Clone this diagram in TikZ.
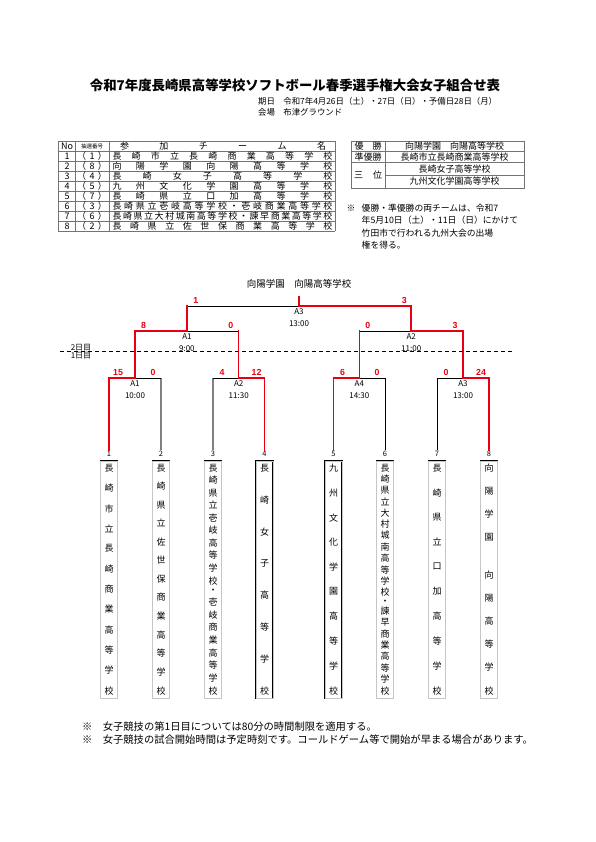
\documentclass[tikz,border=0pt]{standalone}
\usepackage{fontspec}
\setmainfont{Noto Sans CJK JP}
\newfontfamily\scorefont{Liberation Sans}
\definecolor{winred}{RGB}{232,0,16}

% spread characters over a fixed width / height
\newcommand\spreadtext[2]{\makebox[#1]{\foreach \tchar [count=\idx] in {#2}{\ifnum\idx>1 \hfill\fi\tchar}}}
\newcommand\tatetext[2]{\vbox to #1{\offinterlineskip\foreach \tchar [count=\idx] in {#2}{\ifnum\idx>1 \vfill\fi\hbox to 10pt{\hss\tchar\hss}}}}

\begin{document}
\begin{tikzpicture}[x=1pt,y=-1pt,
  win/.style={draw=winred,line width=1.5pt,line cap=rect},
  lose/.style={draw=black,line width=0.8pt},
  grey/.style={draw=gray,line width=1.3pt},
  tbl/.style={draw=black!55,line width=0.6pt},
  tblfont/.style={font=\fontsize{9}{9}\selectfont,inner sep=0pt},
  notefont/.style={font=\fontsize{8.8}{12.5}\selectfont,inner sep=0pt},
  score/.style={text=winred,font=\scorefont\bfseries\fontsize{8.8}{9}\selectfont,inner sep=0pt,anchor=south,yshift=2.5pt},
  matchlbl/.style={font=\fontsize{8}{11.5}\selectfont,align=center,inner sep=0pt,anchor=north,yshift=-2.5pt},
  teambox/.style={draw,double=gray!45,double distance=0.5pt,line width=0.5pt,minimum width=17pt,minimum height=237.5pt,inner sep=0pt,anchor=north,font=\fontsize{9}{9}\selectfont},
  numlbl/.style={font=\fontsize{7.5}{7.5}\selectfont,inner sep=0.5pt}]

  \fill[white] (0,0) rectangle (595,842);
  \useasboundingbox (0,0) rectangle (595,842);

  % heading
  \node[font=\bfseries\fontsize{13.4}{16}\selectfont] (title) at (295,85) {令和7年度長崎県高等学校ソフトボール春季選手権大会女子組合せ表};
  \node[anchor=west,font=\fontsize{8.4}{10}\selectfont,inner sep=0pt] (date) at (258,101.5) {期日　令和7年4月26日（土）・27日（日）・予備日28日（月）};
  \node[anchor=west,font=\fontsize{8.4}{10}\selectfont,inner sep=0pt] (place) at (258,112) {会場　布津グラウンド};

  % team list
  \foreach \r in {0,...,9} \draw[tbl] (58,141+10*\r) -- (335,141+10*\r);
  \foreach \c in {58,75.5,109,335} \draw[tbl] (\c,141) -- (\c,231);
  \node[tblfont] (hno) at (67,146) {No};
  \node[font=\fontsize{5.5}{6}\selectfont,inner sep=0pt] (hlot) at (92,146) {抽選番号};
  \node[tblfont] (hteam) at (223,146) {\spreadtext{206pt}{参,加,チ,ー,ム,名}};
  \foreach \no/\lot [count=\r] in {1/1,2/8,3/4,4/5,5/7,6/3,7/6,8/2}{
    \node[tblfont] (no\r) at (67,146+10*\r) {\no};
    \node[tblfont] (lot\r) at (92,146+10*\r) {\spreadtext{30pt}{（,\lot,）}};
  }
  \node[tblfont] (name1) at (222.5,156) {\spreadtext{220pt}{長,崎,市,立,長,崎,商,業,高,等,学,校}};
  \node[tblfont] (name2) at (222.5,166) {\spreadtext{220pt}{向,陽,学,園,向,陽,高,等,学,校}};
  \node[tblfont] (name3) at (222.5,176) {\spreadtext{220pt}{長,崎,女,子,高,等,学,校}};
  \node[tblfont] (name4) at (222.5,186) {\spreadtext{220pt}{九,州,文,化,学,園,高,等,学,校}};
  \node[tblfont] (name5) at (222.5,196) {\spreadtext{220pt}{長,崎,県,立,口,加,高,等,学,校}};
  \node[tblfont] (name6) at (222.5,206) {\spreadtext{220pt}{長,崎,県,立,壱,岐,高,等,学,校,・,壱,岐,商,業,高,等,学,校}};
  \node[tblfont] (name7) at (222.5,216) {\spreadtext{220pt}{長,崎,県,立,大,村,城,南,高,等,学,校,・,諫,早,商,業,高,等,学,校}};
  \node[tblfont] (name8) at (222.5,226) {\spreadtext{220pt}{長,崎,県,立,佐,世,保,商,業,高,等,学,校}};

  % results
  \draw[tbl] (351,141) rectangle (524,188);
  \draw[tbl] (351,151.5) -- (524,151.5);
  \draw[tbl] (351,162.5) -- (524,162.5);
  \draw[tbl] (385,175) -- (524,175);
  \draw[tbl] (385,141) -- (385,188);
  \node[tblfont] (rank1) at (368,146.25) {\spreadtext{27pt}{優,勝}};
  \node[tblfont] (rank2) at (368,157) {準優勝};
  \node[tblfont] (rank3) at (368,175.25) {\spreadtext{28pt}{三,位}};
  \node[tblfont] (res1) at (454.5,146.25) {向陽学園　向陽高等学校};
  \node[tblfont] (res2) at (454.5,157) {長崎市立長崎商業高等学校};
  \node[tblfont] (res3) at (454.5,168.75) {長崎女子高等学校};
  \node[tblfont] (res4) at (454.5,181.5) {九州文化学園高等学校};
  \node[notefont] (mark) at (351,208) {※};
  \node[notefont,anchor=north west,align=left] (note) at (361.5,203.5) {優勝・準優勝の両チームは、令和7\\年5月10日（土）・11日（日）にかけて\\竹田市で行われる九州大会の出場\\権を得る。};

  % bracket
  \coordinate (m1) at (135,378);
  \coordinate (m2) at (238.7,378);
  \coordinate (m3) at (359.3,378);
  \coordinate (m4) at (463,378);
  \coordinate (s1) at (186.9,331);
  \coordinate (s2) at (411.2,331);
  \coordinate (fin) at (299,306);
  \coordinate (ftop) at (299,297);
  \node[font=\fontsize{9.5}{10}\selectfont] (champ) at (299,283.5) {向陽学園　向陽高等学校};

  \draw[dashed,dash pattern=on 4pt off 3pt,line width=0.8pt] (60,351.5) -- (513,351.5);
  \node[anchor=south,font=\fontsize{8}{8}\selectfont,inner sep=0.3pt] (day2) at (81,351.5) {2日目};
  \node[anchor=north,font=\fontsize{8}{8}\selectfont,inner sep=0.3pt] (day1) at (81,352) {1日目};

  \foreach \x [count=\i] in {109,161,213,264.5,333.5,385,437,489}
    \node[numlbl] (n\i) at (\x,453.5) {\i};

  \node[teambox] (t1) at (109,460.5) {\tatetext{230pt}{長,崎,市,立,長,崎,商,業,高,等,学,校}};
  \node[teambox] (t2) at (161,460.5) {\tatetext{230pt}{長,崎,県,立,佐,世,保,商,業,高,等,学,校}};
  \node[teambox] (t3) at (213,460.5) {\tatetext{230pt}{長,崎,県,立,壱,岐,高,等,学,校,・,壱,岐,商,業,高,等,学,校}};
  \node[teambox] (t4) at (264.5,460.5) {\tatetext{230pt}{長,崎,女,子,高,等,学,校}};
  \node[teambox] (t5) at (333.5,460.5) {\tatetext{230pt}{九,州,文,化,学,園,高,等,学,校}};
  \node[teambox] (t6) at (385,460.5) {\tatetext{230pt}{長,崎,県,立,大,村,城,南,高,等,学,校,・,諫,早,商,業,高,等,学,校}};
  \node[teambox] (t7) at (437,460.5) {\tatetext{230pt}{長,崎,県,立,口,加,高,等,学,校}};
  \node[teambox] (t8) at (489,460.5) {\tatetext{230pt}{向,陽,学,園,　,向,陽,高,等,学,校}};

  \draw[grey] (n2.north) -- (n2.north |- m1);
  \draw[lose] (n2.north |- m1) -- (m1);
  \draw[grey] (n3.north) -- (n3.north |- m2);
  \draw[lose] (n3.north |- m2) -- (m2);
  \draw[lose] (n6.north) |- (m3);
  \draw[lose] (n7.north) |- (m4);
  \draw[lose] (m2 |- s1) -- (s1);
  \draw[lose] (m3 |- s2) -- (s2);
  \draw[lose] (s1 |- fin) -- (fin);

  \draw[win] (n1.north) |- (m1);
  \draw[win] (n4.north) |- (m2);
  \draw[win] (n5.north) |- (m3);
  \draw[win] (n8.north) |- (m4);
  \draw[win] (m1) |- (s1);
  \draw[win] (m2) -- (m2 |- s1);
  \draw[win] (m3) -- (m3 |- s2);
  \draw[win] (m4) |- (s2);
  \draw[win] (s1) -- (s1 |- fin);
  \draw[win] (s2) |- (fin) -- (ftop);

  \node[score,xshift=9pt] (sc1) at (n1.north |- m1) {15};
  \node[score,xshift=-8pt] (sc2) at (n2.north |- m1) {0};
  \node[score,xshift=9pt] (sc3) at (n3.north |- m2) {4};
  \node[score,xshift=-8pt] (sc4) at (n4.north |- m2) {12};
  \node[score,xshift=9pt] (sc5) at (n5.north |- m3) {6};
  \node[score,xshift=-8pt] (sc6) at (n6.north |- m3) {0};
  \node[score,xshift=9pt] (sc7) at (n7.north |- m4) {0};
  \node[score,xshift=-8pt] (sc8) at (n8.north |- m4) {24};
  \node[score,xshift=8.5pt] (ss1) at (m1 |- s1) {8};
  \node[score,xshift=-8pt] (ss2) at (m2 |- s1) {0};
  \node[score,xshift=8.5pt] (ss3) at (m3 |- s2) {0};
  \node[score,xshift=-8pt] (ss4) at (m4 |- s2) {3};
  \node[score,xshift=9pt] (sf1) at (s1 |- fin) {1};
  \node[score,xshift=-7pt] (sf2) at (s2 |- fin) {3};

  \node[matchlbl] (g1) at (m1) {A1\\10:00};
  \node[matchlbl] (g2) at (m2) {A2\\11:30};
  \node[matchlbl] (g3) at (m3) {A4\\14:30};
  \node[matchlbl] (g4) at (m4) {A3\\13:00};
  \node[matchlbl] (g5) at (s1) {A1\\9:00};
  \node[matchlbl] (g6) at (s2) {A2\\11:00};
  \node[matchlbl] (g7) at (fin) {A3\\13:00};

  % notes
  \node[anchor=west,inner sep=0pt,font=\fontsize{10.3}{12}\selectfont] (foot1) at (82,727) {※　女子競技の第1日目については80分の時間制限を適用する。};
  \node[anchor=west,inner sep=0pt,font=\fontsize{10.3}{12}\selectfont] (foot2) at (82,740) {※　女子競技の試合開始時間は予定時刻です。コールドゲーム等で開始が早まる場合があります。};
\end{tikzpicture}
\end{document}
